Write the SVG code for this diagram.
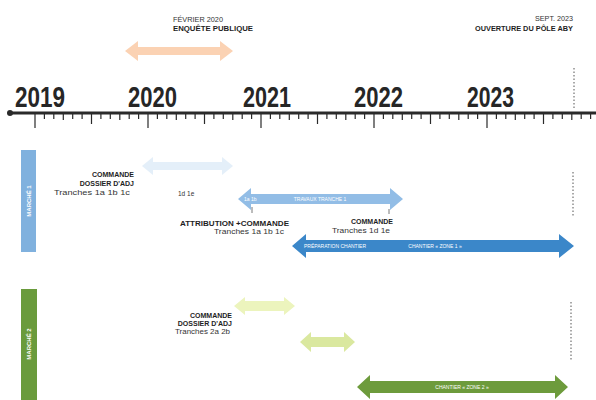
<svg xmlns="http://www.w3.org/2000/svg" width="596" height="400" viewBox="0 0 596 400">
  <style>
    text { font-family: "Liberation Sans", Arial, sans-serif; }
    .year { font-size: 29px; font-weight: bold; fill: #262626; }
    .hd { font-size: 7px; font-weight: bold; fill: #1e1e1e; }
    .sub { font-size: 6.5px; fill: #333333; }
    .in { font-size: 5px; fill: #ffffff; }
    .side { font-size: 6px; font-weight: bold; fill: #ffffff; }
    .tick { stroke: #2a2a2a; stroke-width: 1.2; fill: none; }
    .dot { stroke: #555555; stroke-width: 1; stroke-dasharray: 1.5 2; fill: none; }
  </style>

  <rect width="596" height="400" fill="#ffffff"/>

  <!-- time axis -->
  <g id="axis">
    <line x1="10" y1="113" x2="596" y2="113" stroke="#2a2a2a" stroke-width="3.2"/>
    <circle cx="10" cy="113" r="3" fill="#2a2a2a"/>
    <path class="tick" d="M35 114V128M44.4 114V119M53.8 114V119M63.3 114V120M72.7 114V119M82.1 114V119M91.5 114V124M100.9 114V119M110.3 114V119M119.8 114V120M129.2 114V119M138.6 114V119M148 114V128M157.4 114V119M166.8 114V119M176.3 114V120M185.7 114V119M195.1 114V119M204.5 114V124M213.9 114V119M223.3 114V119M232.8 114V120M242.2 114V119M251.6 114V119M261 114V128M270.4 114V119M279.8 114V119M289.3 114V120M298.7 114V119M308.1 114V119M317.5 114V124M326.9 114V119M336.3 114V119M345.8 114V120M355.2 114V119M364.6 114V119M374 114V128M383.4 114V119M392.8 114V119M402.3 114V120M411.7 114V119M421.1 114V119M430.5 114V124M439.9 114V119M449.3 114V119M458.8 114V120M468.2 114V119M477.6 114V119M487 114V128M496.4 114V119M505.8 114V119M515.3 114V120M524.7 114V119M534.1 114V119M543.5 114V124M552.9 114V119M562.3 114V119M571.8 114V120M581.2 114V119M590.6 114V119"/>
    <text class="year" x="15" y="107" textLength="50" lengthAdjust="spacingAndGlyphs">2019</text>
    <text class="year" x="128" y="107" textLength="49" lengthAdjust="spacingAndGlyphs">2020</text>
    <text class="year" x="243" y="107" textLength="48" lengthAdjust="spacingAndGlyphs">2021</text>
    <text class="year" x="354" y="107" textLength="49" lengthAdjust="spacingAndGlyphs">2022</text>
    <text class="year" x="467" y="107" textLength="47" lengthAdjust="spacingAndGlyphs">2023</text>
  </g>

  <!-- opening milestone marker -->
  <g id="milestone-line">
    <path class="dot" d="M574 68V110M573 172V216M571 302V360"/>
  </g>

  <!-- top milestones -->
  <g id="enquete">
    <text class="sub" x="173" y="22" textLength="50" lengthAdjust="spacingAndGlyphs">FÉVRIER 2020</text>
    <text class="hd" x="173" y="31" textLength="80" lengthAdjust="spacingAndGlyphs">ENQUÊTE PUBLIQUE</text>
    <polygon points="125,51 138,41 138,47 220,47 220,41 233,51 220,61 220,55 138,55 138,61" fill="#fbd2b3"/>
  </g>
  <g id="ouverture">
    <text class="sub" x="573" y="21" text-anchor="end" textLength="38" lengthAdjust="spacingAndGlyphs">SEPT. 2023</text>
    <text class="hd" x="573" y="31" text-anchor="end" textLength="98" lengthAdjust="spacingAndGlyphs">OUVERTURE DU PÔLE ABY</text>
  </g>

  <!-- lot labels -->
  <g id="marche1">
    <rect x="21" y="150" width="15" height="102" fill="#80b1de"/>
    <text class="side" transform="translate(31,201) rotate(-90)" text-anchor="middle">MARCHÉ 1</text>
  </g>
  <g id="marche2">
    <rect x="21" y="289" width="16" height="111" fill="#6a9b3c"/>
    <text class="side" transform="translate(31,344) rotate(-90)" text-anchor="middle">MARCHÉ 2</text>
  </g>

  <!-- lot 1 -->
  <g id="m1-dossier">
    <polygon points="142,166 153,157 153,162 222,162 222,157 233,166 222,175 222,170 153,170 153,175" fill="#e4eff9"/>
    <text class="hd" x="134" y="177" text-anchor="end">COMMANDE</text>
    <text class="hd" x="134" y="186" text-anchor="end">DOSSIER D'ADJ</text>
    <text class="sub" x="130" y="195" text-anchor="end" textLength="76" lengthAdjust="spacingAndGlyphs">Tranches 1a 1b 1c</text>
    <text class="sub" x="178" y="196">1d 1e</text>
  </g>
  <g id="m1-travaux">
    <polygon points="238,199 251,188 251,194 390,194 390,188 403,199 390,210 390,204 251,204 251,210" fill="#92bde6"/>
    <text class="in" x="244" y="201">1a 1b</text>
    <text class="in" x="320" y="201" text-anchor="middle">TRAVAUX TRANCHE 1</text>
  </g>
  <g id="m1-attribution">
    <line x1="252" y1="207" x2="252" y2="213" stroke="#555" stroke-width="0.8"/>
    <text class="hd" x="289" y="226" text-anchor="end" textLength="109" lengthAdjust="spacingAndGlyphs">ATTRIBUTION +COMMANDE</text>
    <text class="sub" x="284" y="234" text-anchor="end" textLength="70" lengthAdjust="spacingAndGlyphs">Tranches 1a 1b 1c</text>
  </g>
  <g id="m1-commande">
    <line x1="389" y1="209" x2="389" y2="214" stroke="#555" stroke-width="0.8"/>
    <text class="hd" x="393" y="224" text-anchor="end">COMMANDE</text>
    <text class="sub" x="390" y="233" text-anchor="end" textLength="58" lengthAdjust="spacingAndGlyphs">Tranches 1d 1e</text>
  </g>
  <g id="m1-chantier">
    <polygon points="292,246 306,234 306,240 559,240 559,234 574,246 559,258 559,252 306,252 306,258" fill="#3b87c9"/>
    <text class="in" x="335" y="248" text-anchor="middle">PRÉPARATION CHANTIER</text>
    <text class="in" x="435" y="248" text-anchor="middle">CHANTIER « ZONE 1 »</text>
  </g>

  <!-- lot 2 -->
  <g id="m2-dossier">
    <polygon points="234,306 245,297 245,301 284,301 284,297 295,306 284,315 284,311 245,311 245,315" fill="#ecf4bd"/>
    <text class="hd" x="232" y="318" text-anchor="end">COMMANDE</text>
    <text class="hd" x="232" y="326" text-anchor="end">DOSSIER D'ADJ</text>
    <text class="sub" x="230" y="334" text-anchor="end" textLength="55" lengthAdjust="spacingAndGlyphs">Tranches 2a 2b</text>
  </g>
  <g id="m2-preparation">
    <polygon points="300,342 311,332 311,337 344,337 344,332 355,342 344,352 344,347 311,347 311,352" fill="#dae89f"/>
  </g>
  <g id="m2-chantier">
    <polygon points="357,387 370,375 370,381 555,381 555,375 568,387 555,399 555,393 370,393 370,399" fill="#6d9b3c"/>
    <text class="in" x="462" y="389" text-anchor="middle">CHANTIER « ZONE 2 »</text>
  </g>
</svg>
